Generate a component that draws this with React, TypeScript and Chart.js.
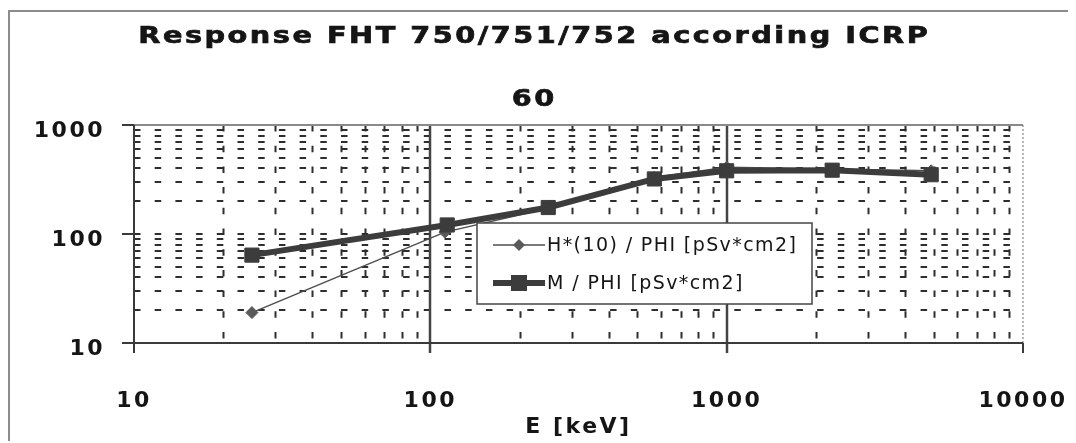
import React, { useEffect, useRef } from 'react';
import { Chart, registerables } from 'chart.js';

Chart.register(...registerables);

// ---- data ----
const hEnergies = [25, 112, 250, 570, 1000, 4900];
const hValues = [19, 104, 172, 330, 410, 380];
const mEnergies = [25, 114, 250, 570, 1000, 2270, 4900];
const mValues = [64, 121, 175, 320, 380, 385, 350];
const xTickLabels = [10, 100, 1000, 10000];
const yTickLabels = [10, 100, 1000];
const minorSteps = [2, 3, 4, 5, 6, 7, 8, 9];
const titleLines = ['Response FHT 750/751/752 according ICRP', '60'];
const seriesNames = ['H*(10) / PHI [pSv*cm2]', 'M / PHI [pSv*cm2]'];
const xAxisTitle = 'E [keV]';

const TEXT = '#151515';

const decorPlugin = {
  id: 'decor',
  beforeDraw(chart: any) {
    chart.ctx.letterSpacing = '2.5px';
  },
  beforeDatasetsDraw(chart: any) {
    const { ctx, chartArea: a, scales } = chart;
    const xs = scales.x;
    const ys = scales.y;
    ctx.save();
    ctx.letterSpacing = '0px';
    // minor dashed grid
    ctx.setLineDash([6.5, 14.2]);
    ctx.lineDashOffset = 0;
    ctx.strokeStyle = '#2e2e2e';
    ctx.lineWidth = 2;
    for (let i = 0; i < xTickLabels.length - 1; i++) {
      for (const m of minorSteps) {
        const px = Math.round(xs.getPixelForValue(xTickLabels[i] * m)) + 0.5;
        ctx.beginPath();
        ctx.moveTo(px, a.top);
        ctx.lineTo(px, a.bottom);
        ctx.stroke();
      }
    }
    const hVals: number[] = [];
    for (let i = 0; i < yTickLabels.length - 1; i++) {
      if (i > 0) hVals.push(yTickLabels[i]);
      for (const m of minorSteps) hVals.push(yTickLabels[i] * m);
    }
    for (const v of hVals) {
      const py = Math.round(ys.getPixelForValue(v));
      ctx.beginPath();
      ctx.moveTo(a.left, py);
      ctx.lineTo(a.right, py);
      ctx.stroke();
    }
    ctx.setLineDash([]);
    // major vertical decade lines
    ctx.strokeStyle = '#444';
    ctx.lineWidth = 2.5;
    for (const v of xTickLabels.slice(1, -1)) {
      const px = Math.round(xs.getPixelForValue(v));
      ctx.beginPath();
      ctx.moveTo(px, a.top);
      ctx.lineTo(px, a.bottom + 10);
      ctx.stroke();
    }
    // frame
    ctx.strokeStyle = '#8a8a8a';
    ctx.lineWidth = 2;
    ctx.beginPath();
    ctx.moveTo(a.left, a.top);
    ctx.lineTo(a.right, a.top);
    ctx.stroke();
    ctx.lineWidth = 1.2;
    ctx.setLineDash([2, 2]);
    ctx.beginPath();
    ctx.moveTo(a.right, a.top);
    ctx.lineTo(a.right, a.bottom);
    ctx.stroke();
    ctx.setLineDash([]);
    ctx.strokeStyle = '#3a3a3a';
    ctx.lineWidth = 2;
    ctx.beginPath();
    ctx.moveTo(a.left, a.top);
    ctx.lineTo(a.left, a.bottom + 10);
    ctx.moveTo(a.left - 12, a.bottom);
    ctx.lineTo(a.right, a.bottom);
    ctx.stroke();
    // major ticks
    for (const v of yTickLabels) {
      const py = Math.round(ys.getPixelForValue(v));
      ctx.beginPath();
      ctx.moveTo(a.left - 12, py);
      ctx.lineTo(a.left, py);
      ctx.stroke();
    }
    const pr = Math.round(xs.getPixelForValue(xTickLabels[xTickLabels.length - 1]));
    ctx.beginPath();
    ctx.moveTo(pr, a.bottom);
    ctx.lineTo(pr, a.bottom + 10);
    ctx.stroke();
    ctx.restore();
  },
  afterDatasetsDraw(chart: any) {
    const { ctx, chartArea: a } = chart;
    ctx.save();
    const lx = a.left + 343;
    const ly = a.top + 98;
    const lw = 335;
    const lh = 81;
    ctx.fillStyle = '#fff';
    ctx.fillRect(lx, ly, lw, lh);
    ctx.strokeStyle = '#454545';
    ctx.lineWidth = 1.5;
    ctx.strokeRect(lx, ly, lw, lh);
    chart.data.datasets.forEach((ds: any, i: number) => {
      const cy = ly + (i === 0 ? 22 : 60);
      ctx.strokeStyle = ds.borderColor;
      ctx.lineWidth = ds.borderWidth;
      ctx.beginPath();
      ctx.moveTo(lx + 16, cy);
      ctx.lineTo(lx + 68, cy);
      ctx.stroke();
      const mx = lx + 42;
      ctx.fillStyle = ds.pointBackgroundColor;
      if (ds.pointStyle === 'rectRot') {
        ctx.beginPath();
        ctx.moveTo(mx, cy - 6);
        ctx.lineTo(mx + 6, cy);
        ctx.lineTo(mx, cy + 6);
        ctx.lineTo(mx - 6, cy);
        ctx.closePath();
        ctx.fill();
      } else {
        ctx.fillRect(mx - 8, cy - 8, 16, 16);
      }
      ctx.font = '19px "DejaVu Sans"';
      ctx.letterSpacing = '1.4px';
      ctx.fillStyle = TEXT;
      ctx.textAlign = 'left';
      ctx.textBaseline = 'middle';
      ctx.fillText(ds.label, lx + 70, cy + 1);
    });
    ctx.restore();
  },
  afterDraw(chart: any) {
    const { ctx } = chart;
    const cx = chart.width / 2 - 10;
    const drawLine = (text: string, y: number) => {
      ctx.save();
      ctx.font = 'bold 23px "DejaVu Sans"';
      ctx.letterSpacing = '2px';
      ctx.fillStyle = TEXT;
      ctx.strokeStyle = TEXT;
      ctx.lineWidth = 0.7;
      ctx.textAlign = 'center';
      ctx.textBaseline = 'alphabetic';
      ctx.translate(cx, y);
      ctx.scale(1.25, 1);
      ctx.fillText(text, 1, 0);
      ctx.strokeText(text, 1, 0);
      ctx.restore();
    };
    drawLine(titleLines[0], 31);
    drawLine(titleLines[1], 94);
  },
};

export default function App() {
  const ref = useRef<HTMLCanvasElement>(null);
  useEffect(() => {
    const canvas = ref.current;
    if (!canvas) return;
    const chart = new Chart(canvas, {
      type: 'scatter',
      data: {
        datasets: [
          {
            label: seriesNames[0],
            data: hEnergies.map((x, i) => ({ x, y: hValues[i] })),
            showLine: true,
            borderColor: '#4e4e4e',
            borderWidth: 1.5,
            pointStyle: 'rectRot',
            pointRadius: 6,
            pointBackgroundColor: '#5a5a5a',
            pointBorderColor: '#5a5a5a',
            pointBorderWidth: 1,
            order: 1,
          } as any,
          {
            label: seriesNames[1],
            data: mEnergies.map((x, i) => ({ x, y: mValues[i] })),
            showLine: true,
            borderColor: '#3c3c3c',
            borderWidth: 6,
            pointStyle: 'rect',
            pointRadius: 10,
            pointBackgroundColor: '#3c3c3c',
            pointBorderColor: '#3c3c3c',
            pointBorderWidth: 1,
            order: 0,
          } as any,
        ],
      },
      options: {
        responsive: false,
        animation: false,
        devicePixelRatio: 1,
        layout: { padding: { top: 113, right: 53, left: 0, bottom: 0 } },
        plugins: {
          legend: { display: false },
          tooltip: { enabled: false },
          title: { display: false },
        },
        scales: {
          x: {
            type: 'logarithmic',
            min: 10,
            max: 10000,
            grid: { display: false, drawTicks: false, tickLength: 0 },
            border: { display: false },
            afterBuildTicks: (s: any) => {
              s.ticks = xTickLabels.map((v) => ({ value: v }));
            },
            afterFit: (s: any) => {
              s.height = 100;
              s.paddingLeft = 0;
              s.paddingRight = 0;
            },
            ticks: {
              autoSkip: false,
              maxRotation: 0,
              padding: 45,
              color: TEXT,
              font: { family: 'DejaVu Sans', size: 22, weight: 'bold' },
              callback: (v: any) => String(v),
            },
            title: {
              display: true,
              text: xAxisTitle,
              color: TEXT,
              font: { family: 'DejaVu Sans', size: 22, weight: 'bold' },
              padding: { top: 0, bottom: 3 },
            },
          },
          y: {
            type: 'logarithmic',
            min: 10,
            max: 1000,
            grid: { display: false, drawTicks: false, tickLength: 0 },
            border: { display: false },
            afterBuildTicks: (s: any) => {
              s.ticks = yTickLabels.map((v) => ({ value: v }));
            },
            afterFit: (s: any) => {
              s.width = 124;
              s.paddingTop = 0;
              s.paddingBottom = 0;
            },
            ticks: {
              autoSkip: false,
              padding: 29,
              labelOffset: 6,
              color: TEXT,
              font: { family: 'DejaVu Sans', size: 22, weight: 'bold' },
              callback: (v: any) => String(v),
            },
          },
        },
      } as any,
      plugins: [decorPlugin],
    });
    return () => chart.destroy();
  }, []);

  return (
    <>
      <style>{'html,body{overflow:hidden}'}</style>
      <div
        style={{
          position: 'relative',
          top: 2,
          width: 1068,
          height: 433,
          boxSizing: 'border-box',
          borderLeft: '2px solid #8c8c8c',
          borderTop: '2px solid #8c8c8c',
          background: '#fff',
        }}
      >
        <canvas ref={ref} width={1066} height={431} style={{ display: 'block' }} />
      </div>
    </>
  );
}
